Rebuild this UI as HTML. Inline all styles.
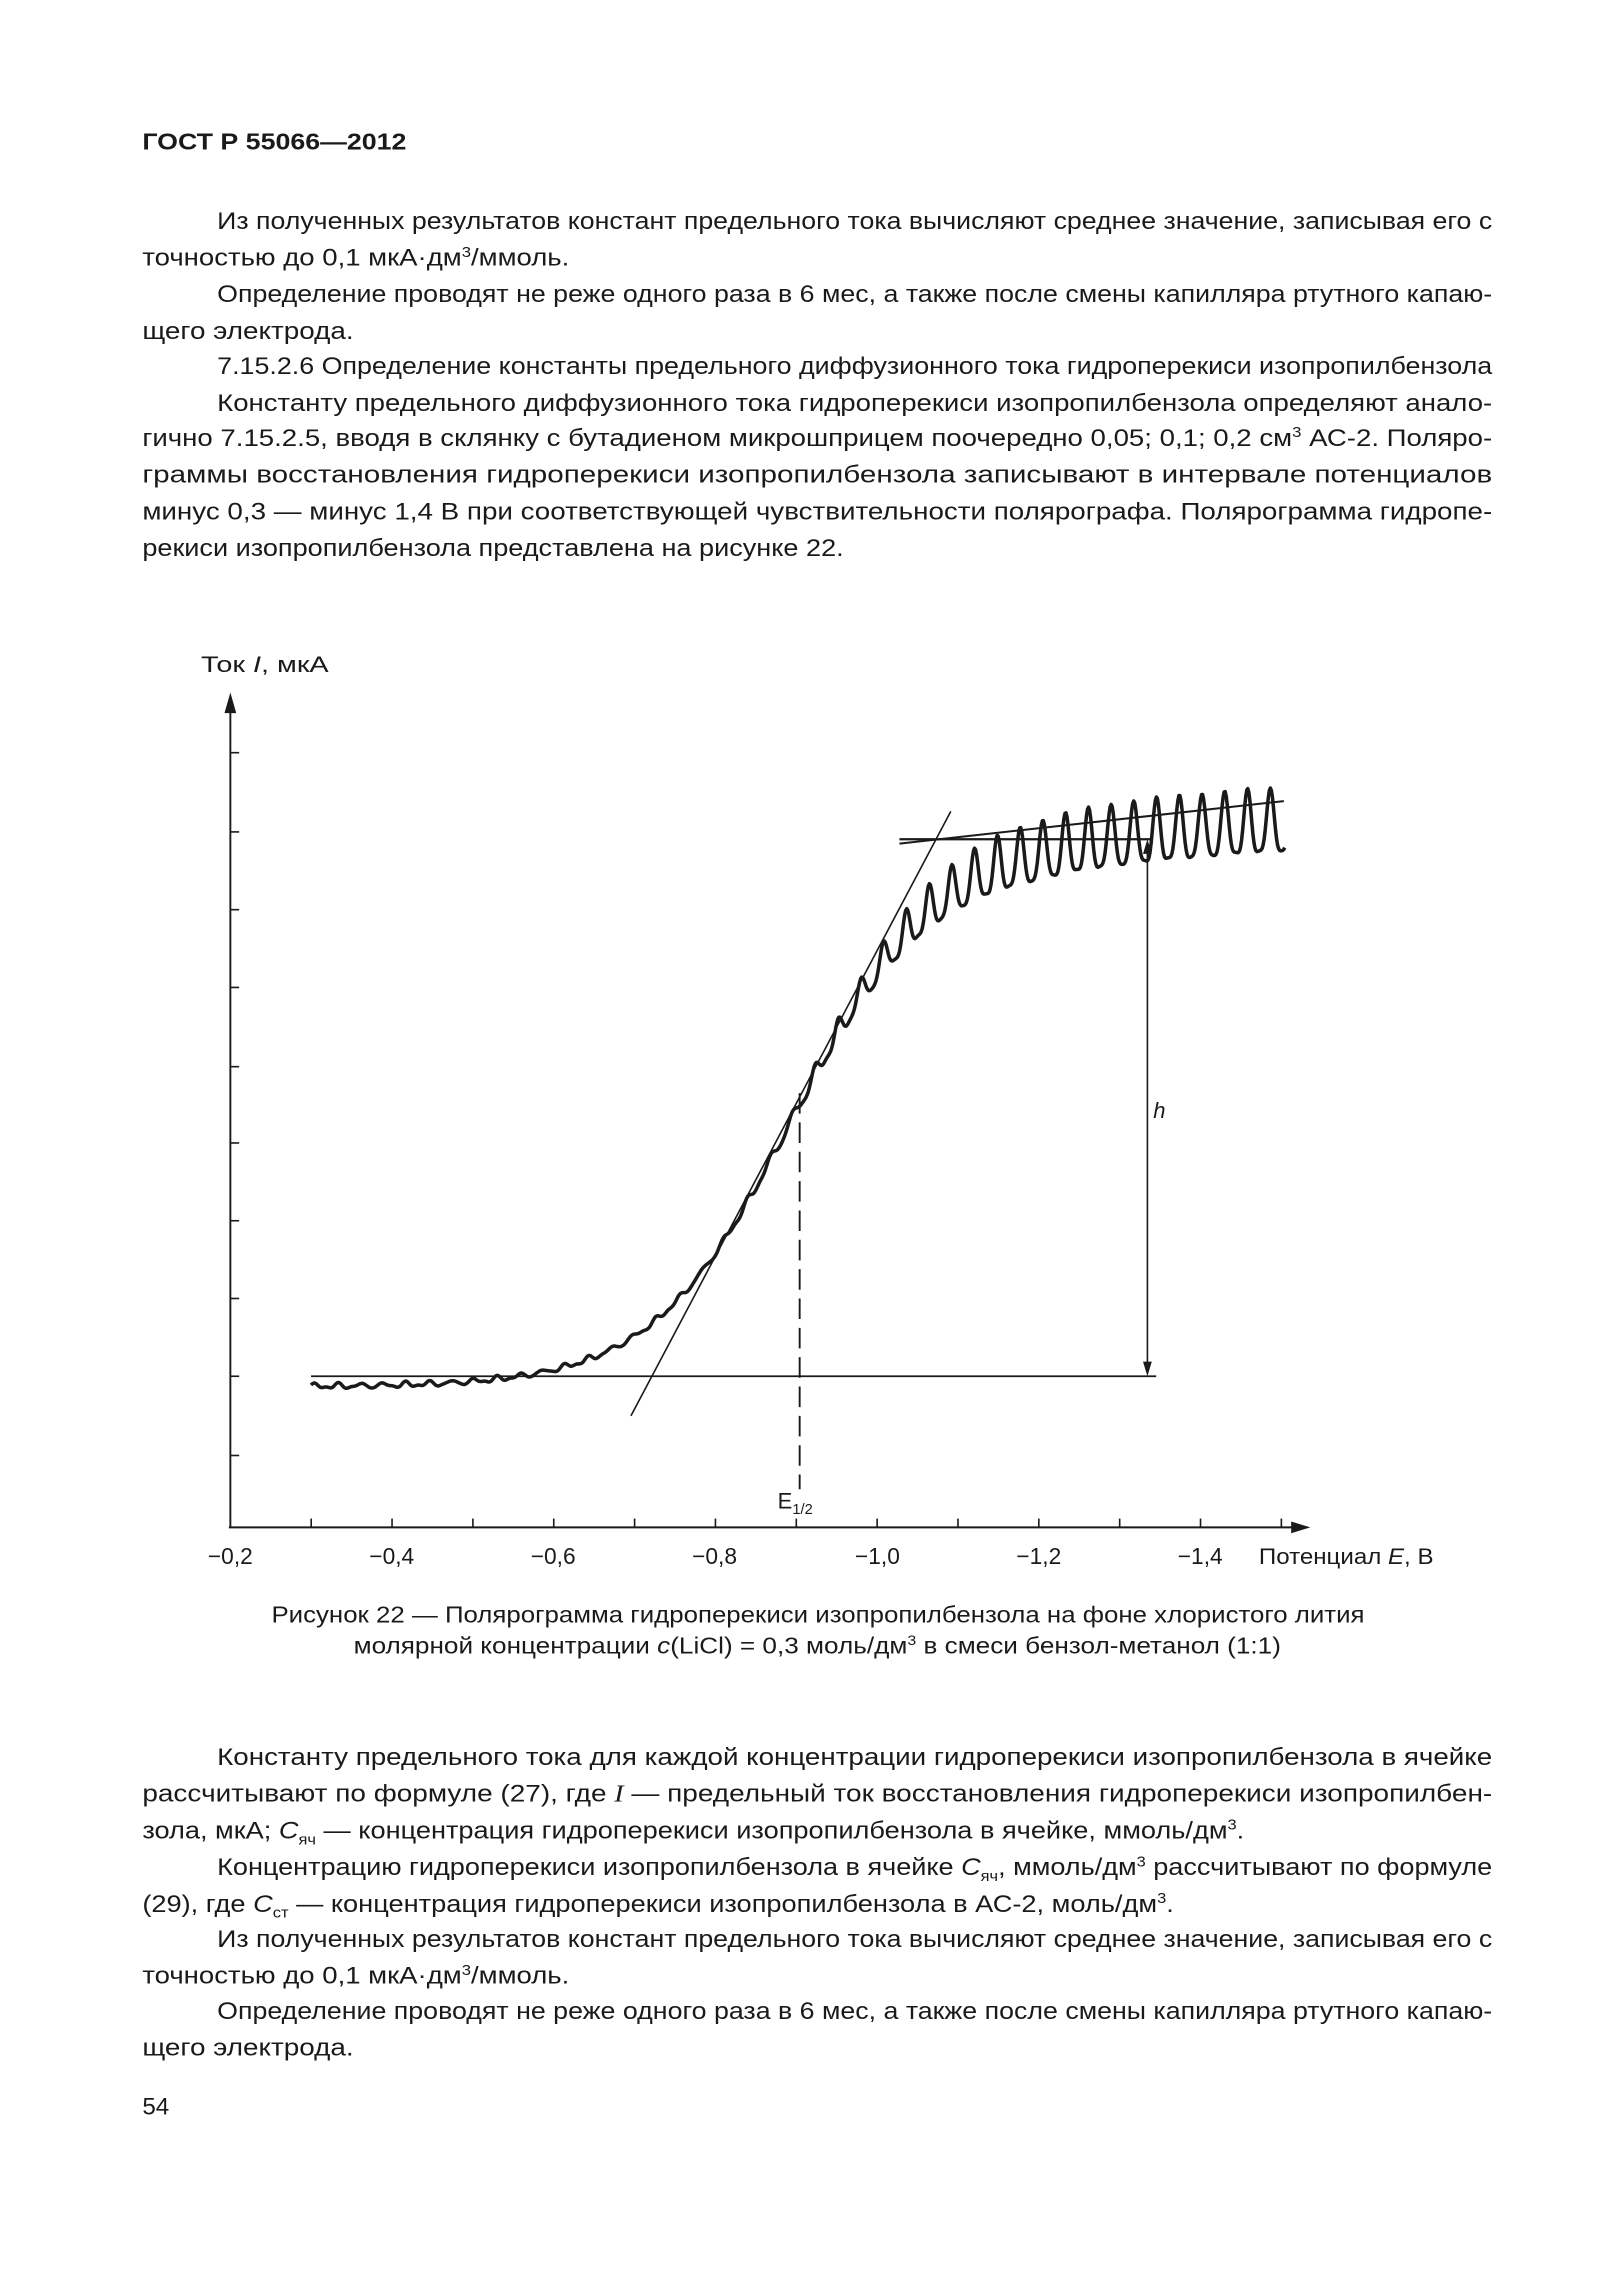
<!DOCTYPE html>
<html><head><meta charset="utf-8"><style>
html,body{margin:0;padding:0;background:#fff}
svg{display:block}
text{font-family:"Liberation Sans",sans-serif;fill:#1a1a1a}
.p{font-size:16.5px}
</style></head><body>
<svg width="1614" height="2283" viewBox="0 0 1100 1556" preserveAspectRatio="none" xmlns="http://www.w3.org/2000/svg">
<text x="97" y="102" font-size="16" font-weight="bold" textLength="180" lengthAdjust="spacingAndGlyphs">ГОСТ Р 55066—2012</text>

<g class="p">
<text x="148" y="156" textLength="869" lengthAdjust="spacingAndGlyphs">Из полученных результатов констант предельного тока вычисляют среднее значение, записывая его с</text>
<text x="97" y="181" textLength="291" lengthAdjust="spacingAndGlyphs">точностью до 0,1 мкА·дм<tspan dy="-6" font-size="10">3</tspan><tspan dy="6">/ммоль.</tspan></text>
<text x="148" y="206" textLength="869" lengthAdjust="spacingAndGlyphs">Определение проводят не реже одного раза в 6 мес, а также после смены капилляра ртутного капаю-</text>
<text x="97" y="231" textLength="144" lengthAdjust="spacingAndGlyphs">щего электрода.</text>
<text x="148" y="255" textLength="869" lengthAdjust="spacingAndGlyphs">7.15.2.6 Определение константы предельного диффузионного тока гидроперекиси изопропилбензола</text>
<text x="148" y="280" textLength="869" lengthAdjust="spacingAndGlyphs">Константу предельного диффузионного тока гидроперекиси изопропилбензола определяют анало-</text>
<text x="97" y="304" textLength="920" lengthAdjust="spacingAndGlyphs">гично 7.15.2.5, вводя в склянку с бутадиеном микрошприцем поочередно 0,05; 0,1; 0,2 см<tspan dy="-6" font-size="10">3</tspan><tspan dy="6"> АС-2. Поляро-</tspan></text>
<text x="97" y="329" textLength="920" lengthAdjust="spacingAndGlyphs">граммы восстановления гидроперекиси изопропилбензола записывают в интервале потенциалов</text>
<text x="97" y="354" textLength="920" lengthAdjust="spacingAndGlyphs">минус 0,3 — минус 1,4 В при соответствующей чувствительности полярографа. Полярограмма гидропе-</text>
<text x="97" y="379" textLength="478" lengthAdjust="spacingAndGlyphs">рекиси изопропилбензола представлена на рисунке 22.</text>
</g>

<!-- chart -->
<g stroke="#1a1a1a" fill="none">
<line x1="157" y1="482" x2="157" y2="1041" stroke-width="1.3"/>
<line x1="156" y1="1041" x2="882" y2="1041" stroke-width="1.3"/>
<g stroke-width="1.1">
<line x1="157" y1="513" x2="163" y2="513"/><line x1="157" y1="567" x2="163" y2="567"/>
<line x1="157" y1="620" x2="163" y2="620"/><line x1="157" y1="673" x2="163" y2="673"/>
<line x1="157" y1="727" x2="163" y2="727"/><line x1="157" y1="779" x2="163" y2="779"/>
<line x1="157" y1="832" x2="163" y2="832"/><line x1="157" y1="885" x2="163" y2="885"/>
<line x1="157" y1="938" x2="163" y2="938"/><line x1="157" y1="992" x2="163" y2="992"/>
</g>
<g id="xt" stroke-width="1.1"></g>
<line x1="212" y1="938" x2="788" y2="938" stroke-width="1.2"/>
<line x1="430" y1="965" x2="648" y2="553" stroke-width="1.1"/>
<line x1="613" y1="572" x2="785" y2="572" stroke-width="1.6"/>
<line x1="613" y1="575" x2="875" y2="546" stroke-width="1.4"/>
<line x1="782" y1="578" x2="782" y2="932" stroke-width="1.1"/>
<line x1="545" y1="745" x2="545" y2="1015" stroke-width="1.3" stroke-dasharray="14,6"/>
<path id="curve" stroke-width="2.4" stroke-linejoin="round"/>
</g>
<g fill="#1a1a1a">
<polygon points="157,472 153,486 161,486"/>
<polygon points="893,1041 880,1037 880,1045"/>
<polygon points="782,572 779,582 785,582"/>
<polygon points="782,938 779,928 785,928"/>
</g>
<text x="137" y="458" font-size="15" textLength="87" lengthAdjust="spacingAndGlyphs">Ток <tspan font-style="italic">I</tspan>, мкА</text>
<text x="786" y="762" font-size="15" font-style="italic">h</text>
<text x="530" y="1028" font-size="15">E<tspan dy="4" font-size="10">1/2</tspan></text>
<g font-size="15.5" text-anchor="middle">
<text x="157" y="1066">−0,2</text><text x="267" y="1066">−0,4</text>
<text x="377" y="1066">−0,6</text><text x="487" y="1066">−0,8</text>
<text x="598" y="1066">−1,0</text><text x="708" y="1066">−1,2</text>
<text x="818" y="1066">−1,4</text>
</g>
<text x="858" y="1066" font-size="15" textLength="119" lengthAdjust="spacingAndGlyphs">Потенциал <tspan font-style="italic">E</tspan>, В</text>
<g font-size="15.5">
<text x="185" y="1106" textLength="745" lengthAdjust="spacingAndGlyphs">Рисунок 22 — Полярограмма гидроперекиси изопропилбензола на фоне хлористого лития</text>
<text x="241" y="1127" textLength="632" lengthAdjust="spacingAndGlyphs">молярной концентрации <tspan font-style="italic">c</tspan>(LiCl) = 0,3 моль/дм<tspan dy="-6" font-size="9.5">3</tspan><tspan dy="6"> в смеси бензол-метанол (1:1)</tspan></text>
</g>

<g class="p">
<text x="148" y="1203" textLength="869" lengthAdjust="spacingAndGlyphs">Константу предельного тока для каждой концентрации гидроперекиси изопропилбензола в ячейке</text>
<text x="97" y="1228" textLength="920" lengthAdjust="spacingAndGlyphs">рассчитывают по формуле (27), где <tspan font-style="italic" font-family="Liberation Serif">I</tspan> — предельный ток восстановления гидроперекиси изопропилбен-</text>
<text x="97" y="1253" textLength="751" lengthAdjust="spacingAndGlyphs">зола, мкА; <tspan font-style="italic">C</tspan><tspan dy="4" font-size="10">яч</tspan><tspan dy="-4"> — концентрация гидроперекиси изопропилбензола в ячейке, ммоль/дм</tspan><tspan dy="-6" font-size="10">3</tspan><tspan dy="6">.</tspan></text>
<text x="148" y="1278" textLength="869" lengthAdjust="spacingAndGlyphs">Концентрацию гидроперекиси изопропилбензола в ячейке <tspan font-style="italic">C</tspan><tspan dy="4" font-size="10">яч</tspan><tspan dy="-4">, ммоль/дм</tspan><tspan dy="-6" font-size="10">3</tspan><tspan dy="6"> рассчитывают по формуле</tspan></text>
<text x="97" y="1303" textLength="703" lengthAdjust="spacingAndGlyphs">(29), где <tspan font-style="italic">C</tspan><tspan dy="4" font-size="10">ст</tspan><tspan dy="-4"> — концентрация гидроперекиси изопропилбензола в АС-2, моль/дм</tspan><tspan dy="-6" font-size="10">3</tspan><tspan dy="6">.</tspan></text>
<text x="148" y="1327" textLength="869" lengthAdjust="spacingAndGlyphs">Из полученных результатов констант предельного тока вычисляют среднее значение, записывая его с</text>
<text x="97" y="1352" textLength="291" lengthAdjust="spacingAndGlyphs">точностью до 0,1 мкА·дм<tspan dy="-6" font-size="10">3</tspan><tspan dy="6">/ммоль.</tspan></text>
<text x="148" y="1376" textLength="869" lengthAdjust="spacingAndGlyphs">Определение проводят не реже одного раза в 6 мес, а также после смены капилляра ртутного капаю-</text>
<text x="97" y="1401" textLength="144" lengthAdjust="spacingAndGlyphs">щего электрода.</text>
<text x="97" y="1441">54</text>
</g>
</svg>
<script>
(function(){
var g=document.getElementById('xt'),s='';
for(var i=1;i<=13;i++){var x=157+i*55.1;s+='<line x1="'+x+'" y1="1035" x2="'+x+'" y2="1041"/>';}
g.innerHTML=s;
var d='';
for(var x=212;x<=876;x+=0.7){
 var f=1/(1+Math.exp(-(x-542)/48));
 var base=945-375*f+ (x>700?-(x-700)*0.06:0);
 var per=15.5, p=((x-300)/per)%1; if(p<0)p+=1;
 var amp=3+40*Math.pow(f,3);
 var sp=Math.pow(Math.abs(Math.sin(Math.PI*p)),4);
 var y=base-amp*(sp-0.45)+Math.sin(x*0.7)*0.6;
 d+=(d?'L':'M')+x.toFixed(1)+','+y.toFixed(1);
}
document.getElementById('curve').setAttribute('d',d);
})();
</script>
</body></html>
